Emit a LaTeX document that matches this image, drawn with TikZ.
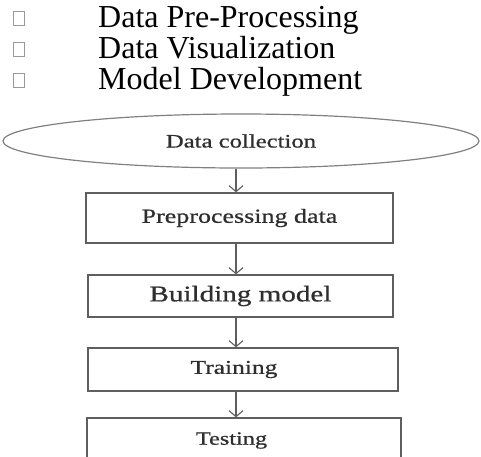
\documentclass[tikz,border=0pt]{standalone}
\usepackage{fontspec}
\setmainfont{Liberation Serif}
\newfontfamily\boxfont[FakeStretch=1.3,FakeBold=0.8]{Liberation Serif}
\usetikzlibrary{shapes.geometric,arrows.meta}
\definecolor{edgegray}{HTML}{5E5E5E}
\definecolor{inkgray}{HTML}{2E2E2E}
\begin{document}
\begin{tikzpicture}[x=1pt,y=-1pt]
\tikzstyle{every node}+=[inner sep=0pt]
\tikzstyle{chkbox}=[draw=gray!80,line width=0.6pt,minimum width=11pt,minimum height=14pt]
\tikzstyle{item}=[anchor=base west,font=\fontsize{32}{32}\selectfont]
\tikzstyle{stage}=[draw=edgegray,line width=1.3pt,text=inkgray]
\tikzstyle{flow}=[draw=edgegray,line width=1.1pt,-{Straight Barb[length=6pt,width=14pt]}]
\useasboundingbox (0,0) rectangle (481,456);
\clip (0,0) rectangle (481,456);
% bullet list
\node [chkbox] (chk1) at (19,18) {};
\node [chkbox] (chk2) at (19,49) {};
\node [chkbox] (chk3) at (19,80) {};
\node [item] (itm1) at (98,27) {Data Pre-Processing};
\node [item] (itm2) at (98,58) {Data Visualization};
\node [item] (itm3) at (98,89) {Model Development};
% flow chart
\node [stage,ellipse,line width=1.2pt,draw=gray,minimum width=476pt,minimum height=54pt,
  font=\boxfont\fontsize{19}{19}\selectfont] (coll) at (241,141) {Data collection};
\node [stage,minimum width=307pt,minimum height=50pt,
  font=\boxfont\fontsize{20}{20}\selectfont] (pre) at (239.5,218) {Preprocessing data};
\node [stage,minimum width=305pt,minimum height=42pt,
  font=\boxfont\fontsize{22.4}{22}\selectfont] (build) at (240.5,296) {Building model};
\node [stage,minimum width=310pt,minimum height=43pt,
  font=\boxfont\fontsize{19.6}{20}\selectfont] (train) at (243,369.5) {Training\hspace*{18pt}};
\node [stage,minimum width=314pt,minimum height=45pt,
  font=\boxfont\fontsize{18.7}{19}\selectfont] (test) at (244,440.5) {Testing\hspace*{25pt}};
\coordinate (ax) at (236,0);
\draw [flow] (coll.south -| ax) -- (pre.north -| ax);
\draw [flow] (pre.south -| ax) -- (build.north -| ax);
\draw [flow] (build.south -| ax) -- (train.north -| ax);
\draw [flow] (train.south -| ax) -- (test.north -| ax);
\end{tikzpicture}
\end{document}
